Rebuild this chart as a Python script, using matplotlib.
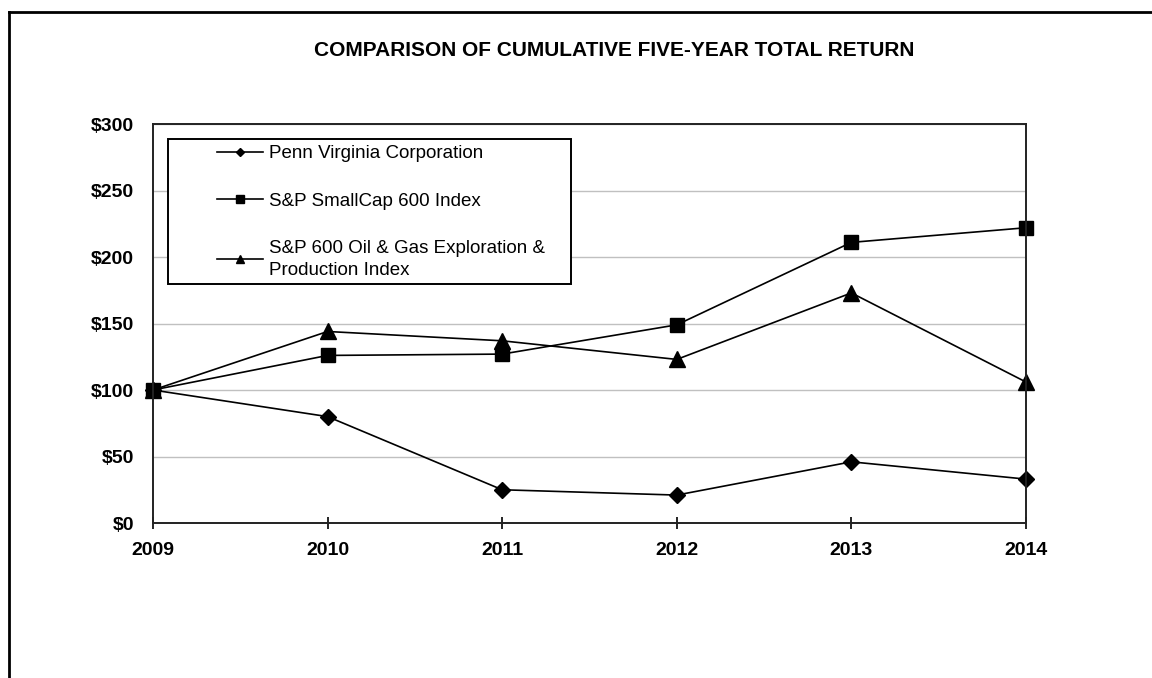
import matplotlib.pyplot as plt
import matplotlib.lines as mlines
from matplotlib.patches import Rectangle
from matplotlib.ticker import FuncFormatter

plt.rcParams['font.family'] = ['Liberation Sans', 'DejaVu Sans']

# data
years = [2009, 2010, 2011, 2012, 2013, 2014]
penn = [100, 80, 25, 21, 46, 33]
smallcap = [100, 126, 127, 149, 211, 222]
oilgas = [100, 144, 137, 123, 173, 106]
labels = ["Penn Virginia Corporation",
          "S&P SmallCap 600 Index",
          "S&P 600 Oil & Gas Exploration &\nProduction Index"]
yticks = [0, 50, 100, 150, 200, 250, 300]

fig = plt.figure(figsize=(11.52, 6.78), dpi=100)
ax = fig.add_axes([0.1328, 0.2286, 0.7578, 0.5885])

ax.plot(years, penn, color='black', lw=1.2, marker='D', ms=8, label=labels[0], clip_on=False)
ax.plot(years, smallcap, color='black', lw=1.2, marker='s', ms=10, label=labels[1], clip_on=False)
ax.plot(years, oilgas, color='black', lw=1.2, marker='^', ms=11, label=labels[2], clip_on=False)

ax.set_xlim(2009, 2014)
ax.set_ylim(0, 300)
ax.set_xticks(years)
ax.set_yticks(yticks)
ax.yaxis.set_major_formatter(FuncFormatter(lambda v, p: f"${int(v)}"))
ax.grid(axis='y', color='#c0c0c0', lw=1)
ax.set_axisbelow(True)
ax.tick_params(axis='y', length=0, pad=13.5, labelsize=14)
ax.tick_params(axis='x', direction='inout', length=9, width=1.2, pad=9, labelsize=14)
for lab in ax.get_xticklabels() + ax.get_yticklabels():
    lab.set_fontweight('bold')
for s in ax.spines.values():
    s.set_linewidth(1.4)
    s.set_color('#222222')

# legend box drawn as a patch, entries placed inside it without a frame
ax.add_patch(Rectangle((0.0172, 0.599), 0.4616, 0.3634, transform=ax.transAxes,
                       facecolor='white', edgecolor='black', lw=1.4, zorder=4))
leg = ax.legend(loc='upper left', bbox_to_anchor=(0.0733, 0.947), frameon=False,
                fontsize=13.5, markerscale=0.55, handlelength=2.45, labelspacing=1.62,
                borderpad=0, borderaxespad=0, handletextpad=0.3)
leg.set_zorder(5)
for t in leg.get_texts():
    t.set_linespacing(1.35)

fig.text(0.533, 0.926, "COMPARISON OF CUMULATIVE FIVE-YEAR TOTAL RETURN",
         ha='center', va='center', fontsize=15, fontweight='bold',
         family=['Liberation Sans Narrow', 'Liberation Sans', 'DejaVu Sans'])

# page frame: left and top edges only
fig.add_artist(mlines.Line2D([9 / 1152, 9 / 1152], [0, 1 - 12 / 678], color='black', lw=2))
fig.add_artist(mlines.Line2D([9 / 1152, 1], [1 - 12 / 678, 1 - 12 / 678], color='black', lw=2))

fig.savefig('out.png', dpi=100, facecolor='white')
